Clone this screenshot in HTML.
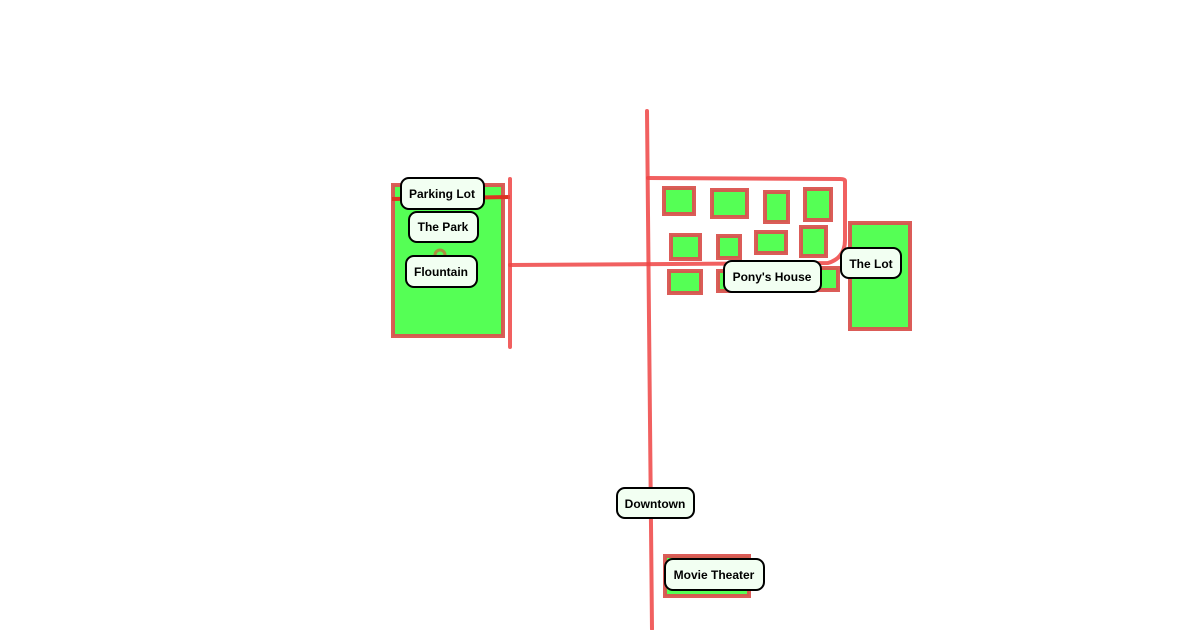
<!DOCTYPE html>
<html><head><style>
html,body{margin:0;padding:0;background:#fff;}
svg{display:block}
.b{fill:#55ff55;stroke:#d9534f;stroke-width:4;stroke-opacity:.95}
.r{fill:none;stroke:#ee4444;stroke-opacity:.85;stroke-width:4;stroke-linecap:round;stroke-linejoin:round}
.l{fill:#f2fff2;stroke:#000;stroke-width:2}
text{font-family:"Liberation Sans",Arial,sans-serif;font-weight:bold;font-size:12px;fill:#000;text-anchor:middle;dominant-baseline:central}
</style></head><body>
<svg width="1200" height="630" viewBox="0 0 1200 630">
<rect x="393" y="185" width="110" height="151" class="b"/>
<line x1="392" y1="199" x2="510" y2="197" stroke="#dd3322" stroke-width="4"/>
<circle cx="440" cy="255" r="5" fill="none" stroke="#c0703a" stroke-width="3" opacity=".8"/>
<path class="r" d="M510 179 L510 347"/>
<path class="r" d="M510 265 L828 263 Q845 258 845 240 L845 181 Q845 179 840 179 L648 178"/>
<path class="r" d="M647 111 L652 629"/>
<rect x="664" y="188" width="30" height="26" class="b"/>
<rect x="712" y="190" width="35" height="27" class="b"/>
<rect x="765" y="192" width="23" height="30" class="b"/>
<rect x="805" y="189" width="26" height="31" class="b"/>
<rect x="671" y="235" width="29" height="24" class="b"/>
<rect x="718" y="236" width="22" height="22" class="b"/>
<rect x="756" y="232" width="30" height="21" class="b"/>
<rect x="801" y="227" width="25" height="29" class="b"/>
<rect x="669" y="271" width="32" height="22" class="b"/>
<rect x="718" y="271" width="28" height="20" class="b"/>
<rect x="815" y="268" width="23" height="22" class="b"/>
<rect x="850" y="223" width="60" height="106" class="b"/>
<rect x="665" y="556" width="84" height="40" class="b"/>
<rect x="401" y="178" width="83" height="31" rx="8" class="l"/><text x="442" y="194">Parking Lot</text>
<rect x="409" y="212" width="69" height="30" rx="8" class="l"/><text x="443" y="227">The Park</text>
<rect x="406" y="256" width="71" height="31" rx="8" class="l"/><text x="441" y="272">Flountain</text>
<rect x="724" y="261" width="97" height="31" rx="8" class="l"/><text x="772" y="277">Pony's House</text>
<rect x="841" y="248" width="60" height="30" rx="8" class="l"/><text x="871" y="264">The Lot</text>
<rect x="617" y="488" width="77" height="30" rx="8" class="l"/><text x="655" y="504">Downtown</text>
<rect x="665" y="559" width="99" height="31" rx="8" class="l"/><text x="714" y="575">Movie Theater</text>
</svg>
</body></html>
